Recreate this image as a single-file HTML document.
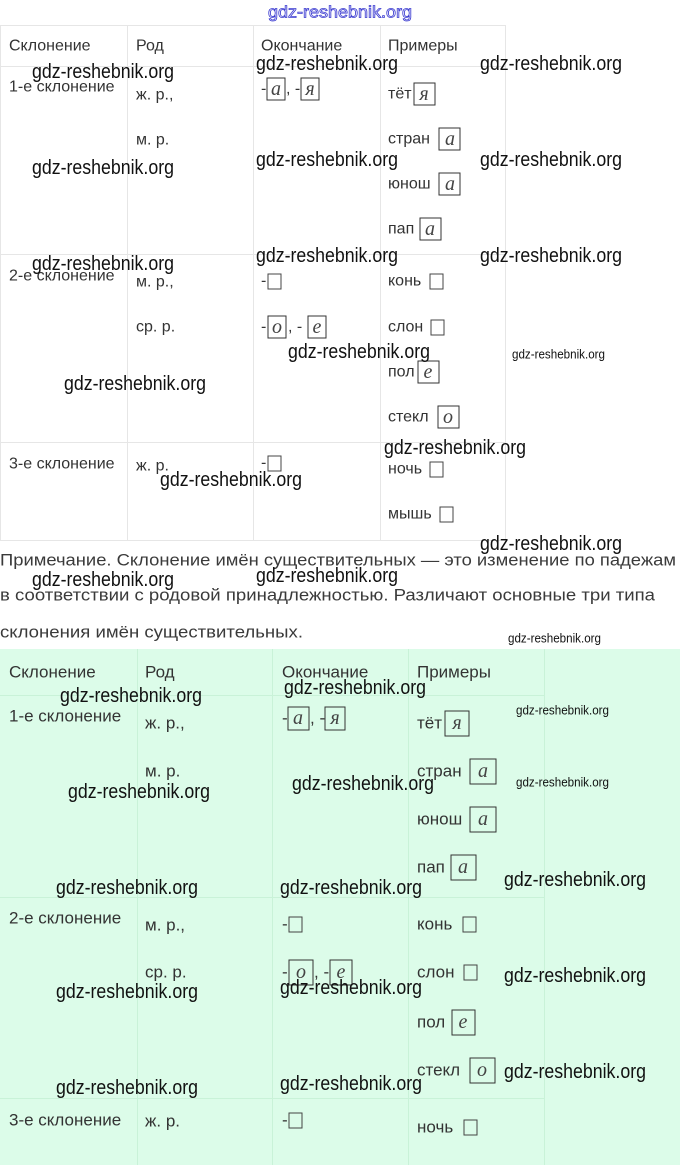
<!DOCTYPE html>
<html><head><meta charset="utf-8"><style>
html,body{margin:0;padding:0;background:#fff}
svg{display:block}
.t{font-family:"Liberation Sans",sans-serif;font-size:16px;fill:#333;dominant-baseline:central}
.t2{font-family:"Liberation Sans",sans-serif;font-size:17px;fill:#333;dominant-baseline:central}
.w{font-family:"Liberation Sans",sans-serif;font-size:20px;fill:#111;dominant-baseline:central}
.ws{font-family:"Liberation Sans",sans-serif;font-size:13px;fill:#111;dominant-baseline:central}
.p{font-family:"Liberation Sans",sans-serif;font-size:17px;fill:#3a3a3a;dominant-baseline:central}
.b{fill:none;stroke:#333;stroke-width:1}
.l{font-family:"Liberation Serif",serif;font-style:italic;font-size:20px;fill:#444;dominant-baseline:central;text-anchor:middle}
</style></head><body>
<svg width="680" height="1165" viewBox="0 0 680 1165" xmlns="http://www.w3.org/2000/svg">
<defs>
<g id="sq"><rect x="0" y="-7" width="13" height="15" fill="none" stroke="#444"/></g>
</defs>
<text x="340" y="12" text-anchor="middle" textLength="144" lengthAdjust="spacingAndGlyphs" style="font-family:'Liberation Sans',sans-serif;font-size:17px;fill:#fff;stroke:#3a3ad0;stroke-width:0.8;dominant-baseline:central">gdz-reshebnik.org</text>

<g stroke="#e6e6e6" stroke-width="1">
<line x1="0" y1="25.5" x2="505" y2="25.5"/>
<line x1="0" y1="66.5" x2="505" y2="66.5"/>
<line x1="0" y1="254.5" x2="505" y2="254.5"/>
<line x1="0" y1="442.5" x2="505" y2="442.5"/>
<line x1="0" y1="540.5" x2="505" y2="540.5"/>
<line x1="0.5" y1="25" x2="0.5" y2="540"/>
<line x1="127.5" y1="25" x2="127.5" y2="540"/>
<line x1="253.5" y1="25" x2="253.5" y2="540"/>
<line x1="380.5" y1="25" x2="380.5" y2="540"/>
<line x1="505.5" y1="25" x2="505.5" y2="540"/>
</g>
<text class="t" x="9" y="46">Склонение</text>
<text class="t" x="136" y="46">Род</text>
<text class="t" x="261" y="46">Окончание</text>
<text class="t" x="388" y="46">Примеры</text>

<text class="t" x="9" y="87">1-е склонение</text>
<text class="t" x="136" y="95">ж. р.,</text>
<text class="t" x="136" y="140">м. р.</text>
<text class="t" x="261" y="89">-</text><rect class="b" x="267" y="78" width="18" height="22"/><text class="l" x="276" y="89">а</text>
<text class="t" x="286" y="89">, -</text><rect class="b" x="301" y="78" width="18" height="22"/><text class="l" x="310" y="89">я</text>
<text class="t" x="388" y="94">тёт</text><rect class="b" x="414" y="83" width="21" height="22"/><text class="l" x="424" y="94">я</text>
<text class="t" x="388" y="139">стран</text><rect class="b" x="439" y="128" width="21" height="22"/><text class="l" x="450" y="139">а</text>
<text class="t" x="388" y="184">юнош</text><rect class="b" x="439" y="173" width="21" height="22"/><text class="l" x="450" y="184">а</text>
<text class="t" x="388" y="229">пап</text><rect class="b" x="420" y="218" width="21" height="22"/><text class="l" x="430" y="229">а</text>

<text class="t" x="9" y="276">2-е склонение</text>
<text class="t" x="136" y="282">м. р.,</text>
<text class="t" x="136" y="327">ср. р.</text>
<text class="t" x="261" y="281">-</text><use href="#sq" x="268" y="281"/>
<text class="t" x="388" y="281">конь</text><use href="#sq" x="430" y="281"/>
<text class="t" x="261" y="327">-</text><rect class="b" x="268" y="316" width="18" height="22"/><text class="l" x="277" y="327">о</text>
<text class="t" x="288" y="327">, -</text><rect class="b" x="308" y="316" width="18" height="22"/><text class="l" x="317" y="327">е</text>
<text class="t" x="388" y="327">слон</text><use href="#sq" x="431" y="327"/>
<text class="t" x="388" y="372">пол</text><rect class="b" x="418" y="361" width="21" height="22"/><text class="l" x="428" y="372">е</text>
<text class="t" x="388" y="417">стекл</text><rect class="b" x="438" y="406" width="21" height="22"/><text class="l" x="448" y="417">о</text>

<text class="t" x="9" y="464">3-е склонение</text>
<text class="t" x="136" y="466">ж. р.</text>
<text class="t" x="261" y="463">-</text><use href="#sq" x="268" y="463"/>
<text class="t" x="388" y="469">ночь</text><use href="#sq" x="430" y="469"/>
<text class="t" x="388" y="514">мышь</text><use href="#sq" x="440" y="514"/>

<text class="p" x="0" y="560" textLength="676" lengthAdjust="spacingAndGlyphs">Примечание. Склонение имён существительных — это изменение по падежам</text>
<text class="p" x="0" y="595" textLength="655" lengthAdjust="spacingAndGlyphs">в соответствии с родовой принадлежностью. Различают основные три типа</text>
<text class="p" x="0" y="632" textLength="303" lengthAdjust="spacingAndGlyphs">склонения имён существительных.</text>

<rect x="0" y="649" width="680" height="516" fill="#dcfce9"/>
<g stroke="#c9f2d8" stroke-width="1">
<line x1="0" y1="695.5" x2="544" y2="695.5"/>
<line x1="0" y1="897.5" x2="544" y2="897.5"/>
<line x1="0" y1="1098.5" x2="544" y2="1098.5"/>
<line x1="137.5" y1="649" x2="137.5" y2="1165"/>
<line x1="272.5" y1="649" x2="272.5" y2="1165"/>
<line x1="408.5" y1="649" x2="408.5" y2="1165"/>
<line x1="544.5" y1="649" x2="544.5" y2="1165"/>
</g>
<text class="t2" x="9" y="672">Склонение</text>
<text class="t2" x="145" y="672">Род</text>
<text class="t2" x="282" y="672">Окончание</text>
<text class="t2" x="417" y="672">Примеры</text>

<text class="t2" x="9" y="716">1-е склонение</text>
<text class="t2" x="145" y="723">ж. р.,</text>
<text class="t2" x="145" y="771">м. р.</text>
<text class="t2" x="282" y="718">-</text><rect class="b" x="288" y="707" width="21" height="23"/><text class="l" x="298" y="718">а</text>
<text class="t2" x="310" y="718">, -</text><rect class="b" x="325" y="707" width="20" height="23"/><text class="l" x="335" y="718">я</text>
<text class="t2" x="417" y="723">тёт</text><rect class="b" x="445" y="711" width="24" height="25"/><text class="l" x="457" y="723">я</text>
<text class="t2" x="417" y="771">стран</text><rect class="b" x="470" y="759" width="26" height="25"/><text class="l" x="483" y="771">а</text>
<text class="t2" x="417" y="819">юнош</text><rect class="b" x="470" y="807" width="26" height="25"/><text class="l" x="483" y="819">а</text>
<text class="t2" x="417" y="867">пап</text><rect class="b" x="451" y="855" width="25" height="25"/><text class="l" x="463" y="867">а</text>

<text class="t2" x="9" y="918">2-е склонение</text>
<text class="t2" x="145" y="925">м. р.,</text>
<text class="t2" x="145" y="972">ср. р.</text>
<text class="t2" x="282" y="924">-</text><use href="#sq" x="289" y="924"/>
<text class="t2" x="417" y="924">конь</text><use href="#sq" x="463" y="924"/>
<text class="t2" x="282" y="972">-</text><rect class="b" x="289" y="960" width="24" height="25"/><text class="l" x="301" y="972">о</text>
<text class="t2" x="314" y="972">, -</text><rect class="b" x="330" y="960" width="22" height="25"/><text class="l" x="341" y="972">е</text>
<text class="t2" x="417" y="972">слон</text><use href="#sq" x="464" y="972"/>
<text class="t2" x="417" y="1022">пол</text><rect class="b" x="452" y="1010" width="23" height="25"/><text class="l" x="463" y="1022">е</text>
<text class="t2" x="417" y="1070">стекл</text><rect class="b" x="470" y="1058" width="25" height="25"/><text class="l" x="482" y="1070">о</text>

<text class="t2" x="9" y="1120">3-е склонение</text>
<text class="t2" x="145" y="1121">ж. р.</text>
<text class="t2" x="282" y="1120">-</text><use href="#sq" x="289" y="1120"/>
<text class="t2" x="417" y="1127">ночь</text><use href="#sq" x="464" y="1127"/>

<g>
<text class="w" textLength="142" lengthAdjust="spacingAndGlyphs" x="32" y="72">gdz-reshebnik.org</text>
<text class="w" textLength="142" lengthAdjust="spacingAndGlyphs" x="256" y="64">gdz-reshebnik.org</text>
<text class="w" textLength="142" lengthAdjust="spacingAndGlyphs" x="480" y="64">gdz-reshebnik.org</text>
<text class="w" textLength="142" lengthAdjust="spacingAndGlyphs" x="32" y="168">gdz-reshebnik.org</text>
<text class="w" textLength="142" lengthAdjust="spacingAndGlyphs" x="256" y="160">gdz-reshebnik.org</text>
<text class="w" textLength="142" lengthAdjust="spacingAndGlyphs" x="480" y="160">gdz-reshebnik.org</text>
<text class="w" textLength="142" lengthAdjust="spacingAndGlyphs" x="32" y="264">gdz-reshebnik.org</text>
<text class="w" textLength="142" lengthAdjust="spacingAndGlyphs" x="256" y="256">gdz-reshebnik.org</text>
<text class="w" textLength="142" lengthAdjust="spacingAndGlyphs" x="480" y="256">gdz-reshebnik.org</text>
<text class="w" textLength="142" lengthAdjust="spacingAndGlyphs" x="288" y="352">gdz-reshebnik.org</text>
<text class="w" textLength="142" lengthAdjust="spacingAndGlyphs" x="64" y="384">gdz-reshebnik.org</text>
<text class="w" textLength="142" lengthAdjust="spacingAndGlyphs" x="384" y="448">gdz-reshebnik.org</text>
<text class="w" textLength="142" lengthAdjust="spacingAndGlyphs" x="160" y="480">gdz-reshebnik.org</text>
<text class="w" textLength="142" lengthAdjust="spacingAndGlyphs" x="480" y="544">gdz-reshebnik.org</text>
<text class="w" textLength="142" lengthAdjust="spacingAndGlyphs" x="32" y="580">gdz-reshebnik.org</text>
<text class="w" textLength="142" lengthAdjust="spacingAndGlyphs" x="256" y="576">gdz-reshebnik.org</text>
<text class="w" textLength="142" lengthAdjust="spacingAndGlyphs" x="60" y="696">gdz-reshebnik.org</text>
<text class="w" textLength="142" lengthAdjust="spacingAndGlyphs" x="284" y="688">gdz-reshebnik.org</text>
<text class="w" textLength="142" lengthAdjust="spacingAndGlyphs" x="68" y="792">gdz-reshebnik.org</text>
<text class="w" textLength="142" lengthAdjust="spacingAndGlyphs" x="292" y="784">gdz-reshebnik.org</text>
<text class="w" textLength="142" lengthAdjust="spacingAndGlyphs" x="56" y="888">gdz-reshebnik.org</text>
<text class="w" textLength="142" lengthAdjust="spacingAndGlyphs" x="280" y="888">gdz-reshebnik.org</text>
<text class="w" textLength="142" lengthAdjust="spacingAndGlyphs" x="504" y="880">gdz-reshebnik.org</text>
<text class="w" textLength="142" lengthAdjust="spacingAndGlyphs" x="56" y="992">gdz-reshebnik.org</text>
<text class="w" textLength="142" lengthAdjust="spacingAndGlyphs" x="280" y="988">gdz-reshebnik.org</text>
<text class="w" textLength="142" lengthAdjust="spacingAndGlyphs" x="504" y="976">gdz-reshebnik.org</text>
<text class="w" textLength="142" lengthAdjust="spacingAndGlyphs" x="56" y="1088">gdz-reshebnik.org</text>
<text class="w" textLength="142" lengthAdjust="spacingAndGlyphs" x="280" y="1084">gdz-reshebnik.org</text>
<text class="w" textLength="142" lengthAdjust="spacingAndGlyphs" x="504" y="1072">gdz-reshebnik.org</text>
</g>
<text class="ws" textLength="93" lengthAdjust="spacingAndGlyphs" x="512" y="354">gdz-reshebnik.org</text>
<text class="ws" textLength="93" lengthAdjust="spacingAndGlyphs" x="508" y="638">gdz-reshebnik.org</text>
<text class="ws" textLength="93" lengthAdjust="spacingAndGlyphs" x="516" y="710">gdz-reshebnik.org</text>
<text class="ws" textLength="93" lengthAdjust="spacingAndGlyphs" x="516" y="782">gdz-reshebnik.org</text>
</svg>
</body></html>
